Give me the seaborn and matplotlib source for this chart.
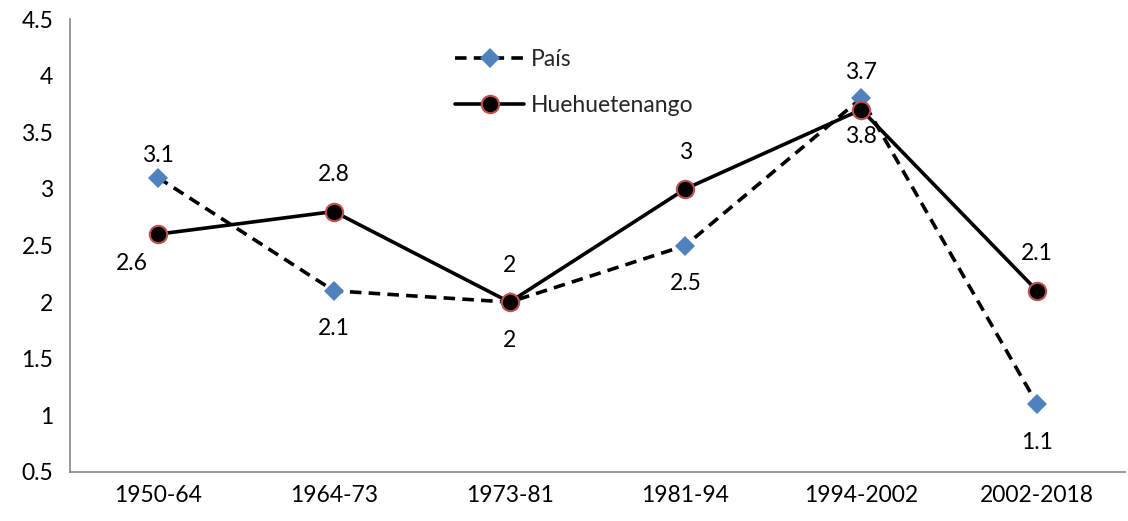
import matplotlib
matplotlib.use("Agg")
import matplotlib.pyplot as plt
import seaborn as sns
import pandas as pd
from matplotlib.ticker import FixedLocator, MultipleLocator

periods = ["1950-64", "1964-73", "1973-81", "1981-94", "1994-2002", "2002-2018"]
pais = [3.1, 2.1, 2.0, 2.5, 3.8, 1.1]
huehue = [2.6, 2.8, 2.0, 3.0, 3.7, 2.1]
pais_labels = ["3.1", "2.1", "2", "2.5", "3.8", "1.1"]
huehue_labels = ["2.6", "2.8", "2", "3", "3.7", "2.1"]

sns.set_theme(style="white")
plt.rcParams['font.family'] = ['Lato', 'DejaVu Sans']
FS = 16.5

df = pd.DataFrame({"period": periods, "País": pais, "Huehuetenango": huehue})

fig = plt.figure(figsize=(11.28, 5.21), dpi=100)
ax = fig.add_axes([70/1128, 1-472/521, 1055/1128, (472-19)/521])

sns.lineplot(data=df, x="period", y="País", ax=ax, sort=False, color="black",
             linewidth=2.6, linestyle=(0, (3.2, 2.0)), marker="D", markersize=10,
             markerfacecolor="#4F81BD", markeredgecolor="#4F81BD", markeredgewidth=0,
             label="País")
sns.lineplot(data=df, x="period", y="Huehuetenango", ax=ax, sort=False, color="black",
             linewidth=2.6, marker="o", markersize=12.5,
             markerfacecolor="black", markeredgecolor="#C0504D", markeredgewidth=1.5,
             label="Huehuetenango")

# data labels
pais_pos = ["above_near", "below", "below", "below", "below", "below"]
hh_pos = ["belowleft", "above", "above", "above", "above", "above"]
offs = {"above": (0, 26.5), "above_near": (0, 16), "below": (0, -27.5), "belowleft": (-19, -21)}
for i, (v, t, p) in enumerate(zip(pais, pais_labels, pais_pos)):
    ax.annotate(t, (i, v), xytext=offs[p], textcoords="offset points",
                ha="center", va="center", fontsize=FS, color="black")
for i, (v, t, p) in enumerate(zip(huehue, huehue_labels, hh_pos)):
    ax.annotate(t, (i, v), xytext=offs[p], textcoords="offset points",
                ha="center", va="center", fontsize=FS, color="black")

ax.set_xlim(-0.5, len(periods) - 0.5)
ax.set_ylim(0.5, 4.5)
ax.yaxis.set_major_locator(MultipleLocator(0.5))
ax.set_yticklabels([f"{v:g}" for v in ax.get_yticks()])
ax.set_xticks(range(len(periods)))
ax.set_xticklabels(periods)
ax.xaxis.set_minor_locator(FixedLocator([i - 0.5 for i in range(len(periods) + 1)]))
ax.tick_params(axis="x", which="major", length=0, pad=9, labelsize=FS, colors="black")
ax.tick_params(axis="x", which="minor", length=7, width=1.2, color="#868686", direction="out")
ax.tick_params(axis="y", which="major", length=7, width=1.2, color="#868686", direction="out",
               labelsize=FS, labelcolor="black", pad=5)
ax.set_xlabel("")
ax.set_ylabel("")
for s in ["top", "right"]:
    ax.spines[s].set_visible(False)
for s in ["left", "bottom"]:
    ax.spines[s].set_color("#868686")
    ax.spines[s].set_linewidth(1.2)

leg = ax.legend(loc="upper left", bbox_to_anchor=(0.35, 0.97), frameon=False,
                fontsize=FS, handlelength=3.0, handletextpad=0.3, labelspacing=1.1,
                borderpad=0.2)

fig.savefig("out.png", dpi=100)
